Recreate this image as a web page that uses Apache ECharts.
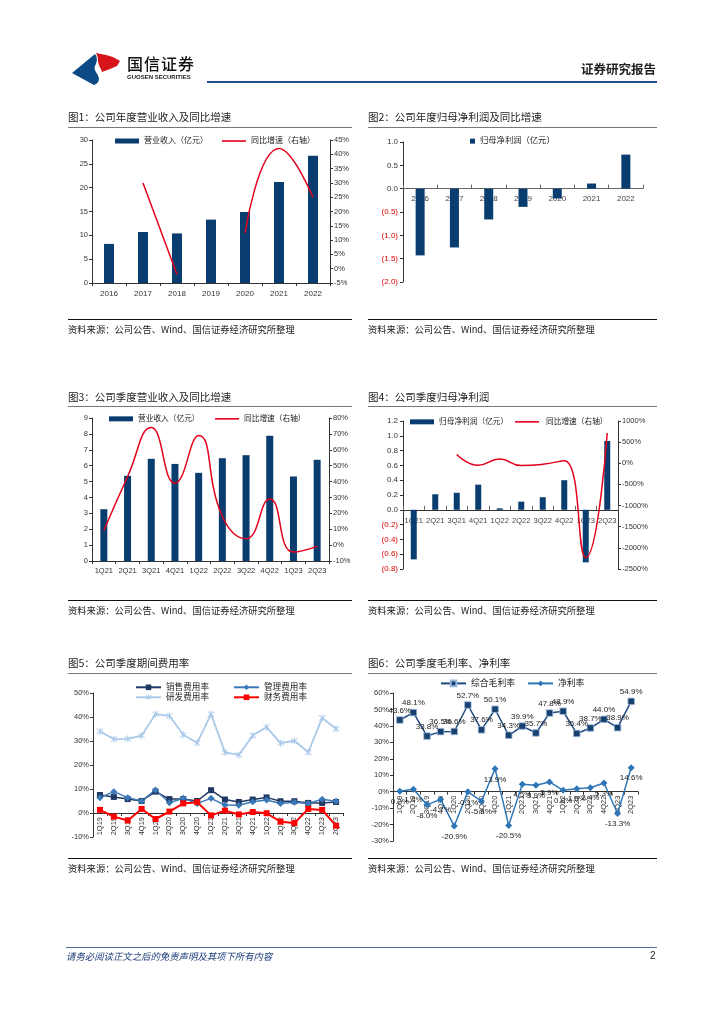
<!DOCTYPE html>
<html><head><meta charset="utf-8">
<script src="https://cdn.jsdelivr.net/npm/echarts/dist/echarts.min.js"></script>
<style>
html,body{margin:0;padding:0;background:#fff;}
#page{position:relative;width:724px;height:1024px;overflow:hidden;background:#fff;font-family:"Noto Sans CJK SC","Liberation Sans",sans-serif;}
#chart{position:absolute;left:0;top:0;width:724px;height:1024px;}
.t{position:absolute;white-space:nowrap;color:#222;}
.ln{position:absolute;}
</style>
</head><body>
<div id="page">
<div id="chart"></div>
<svg class="ln" style="left:0;top:0" width="724" height="100">
<path d="M72,73 L95,54 C98,58 97,62 95,66 C93,71 99,74 99,79 C99,82 97,84 94,85 Z" fill="#0c4a85"/>
<path d="M96,53 L106,55 L113,57 L120,61 L117,66 L110,69 L102,72 C101,68 98,65 98,60 C98,57 97,55 96,53 Z" fill="#d7141a"/>
</svg>
<div class="t" style="left:127px;top:55px;font-size:16px;line-height:16px;letter-spacing:1px;font-weight:500;color:#111;">国信证券</div>
<div class="t" style="left:127px;top:74px;font-size:6px;line-height:6px;font-weight:bold;font-family:'Liberation Sans';color:#222;">GUOSEN SECURITIES</div>
<div class="t" style="left:581px;top:62px;font-size:12.5px;line-height:13px;font-weight:bold;color:#222;">证券研究报告</div>
<div class="ln" style="left:207px;top:81px;width:450px;height:2px;background:#1f4e8c;"></div>

<div class="t" style="left:68px;top:111px;font-size:10.5px;line-height:12px;">图1：公司年度营业收入及同比增速</div>
<div class="t" style="left:368px;top:111px;font-size:10.5px;line-height:12px;">图2：公司年度归母净利润及同比增速</div>
<div class="ln" style="left:68px;top:127px;width:284px;height:1px;background:#777;"></div>
<div class="ln" style="left:368px;top:127px;width:289px;height:1px;background:#777;"></div>
<div class="ln" style="left:68px;top:319px;width:284px;height:1px;background:#111;"></div>
<div class="ln" style="left:368px;top:319px;width:289px;height:1px;background:#111;"></div>
<div class="t" style="left:68px;top:324px;font-size:9.3px;line-height:10px;">资料来源：公司公告、Wind、国信证券经济研究所整理</div>
<div class="t" style="left:368px;top:324px;font-size:9.3px;line-height:10px;">资料来源：公司公告、Wind、国信证券经济研究所整理</div>

<div class="t" style="left:68px;top:391px;font-size:10.5px;line-height:12px;">图3：公司季度营业收入及同比增速</div>
<div class="t" style="left:368px;top:391px;font-size:10.5px;line-height:12px;">图4：公司季度归母净利润</div>
<div class="ln" style="left:68px;top:406px;width:284px;height:1px;background:#777;"></div>
<div class="ln" style="left:368px;top:406px;width:289px;height:1px;background:#777;"></div>
<div class="ln" style="left:68px;top:600px;width:284px;height:1px;background:#111;"></div>
<div class="ln" style="left:368px;top:600px;width:289px;height:1px;background:#111;"></div>
<div class="t" style="left:68px;top:605px;font-size:9.3px;line-height:10px;">资料来源：公司公告、Wind、国信证券经济研究所整理</div>
<div class="t" style="left:368px;top:605px;font-size:9.3px;line-height:10px;">资料来源：公司公告、Wind、国信证券经济研究所整理</div>

<div class="t" style="left:68px;top:657px;font-size:10.5px;line-height:12px;">图5：公司季度期间费用率</div>
<div class="t" style="left:368px;top:657px;font-size:10.5px;line-height:12px;">图6：公司季度毛利率、净利率</div>
<div class="ln" style="left:68px;top:673px;width:284px;height:1px;background:#777;"></div>
<div class="ln" style="left:368px;top:673px;width:289px;height:1px;background:#777;"></div>
<div class="ln" style="left:68px;top:858px;width:284px;height:1px;background:#111;"></div>
<div class="ln" style="left:368px;top:858px;width:289px;height:1px;background:#111;"></div>
<div class="t" style="left:68px;top:863px;font-size:9.3px;line-height:10px;">资料来源：公司公告、Wind、国信证券经济研究所整理</div>
<div class="t" style="left:368px;top:863px;font-size:9.3px;line-height:10px;">资料来源：公司公告、Wind、国信证券经济研究所整理</div>

<div class="ln" style="left:66px;top:947px;width:591px;height:1px;background:#4a6fa0;"></div>
<div class="t" style="left:66px;top:951px;font-size:9.4px;line-height:10px;font-style:italic;color:#1f3f7a;">请务必阅读正文之后的免责声明及其项下所有内容</div>
<div class="t" style="left:650px;top:951px;font-size:10px;line-height:10px;font-family:'Liberation Sans';color:#222;">2</div>
</div>
<script>
// ---------- DATA ----------
const years = ['2016','2017','2018','2019','2020','2021','2022'];
const annualRevenue = [8.2, 10.7, 10.4, 13.3, 14.9, 21.2, 26.7];
const annualRevenueGrowth = [null, 30, -2, null, 12.4, 42, 25];
const annualNetProfit = [-1.43, -1.26, -0.66, -0.39, -0.21, 0.11, 0.73];

const quarters21 = ['1Q21','2Q21','3Q21','4Q21','1Q22','2Q22','3Q22','4Q22','1Q23','2Q23'];
const quarterRevenue = [3.26, 5.36, 6.43, 6.11, 5.55, 6.47, 6.66, 7.88, 5.32, 6.37];
const quarterRevenueGrowth = [9.2, 43, 74, 39, 69, 18, 4, 29, -4.4, -0.8];
const quarterNetProfit = [-0.67, 0.21, 0.23, 0.34, 0.02, 0.11, 0.17, 0.40, -0.71, 0.93];
const quarterNetProfitGrowth = [null, null, 210, -46, 100, -54, -23, 62, -2230, 715];

const quarters19 = ['1Q19','2Q19','3Q19','4Q19','1Q20','2Q20','3Q20','4Q20','1Q21','2Q21','3Q21','4Q21','1Q22','2Q22','3Q22','4Q22','1Q23','2Q23'];
const sellingRate = [7.5, 6.7, 5.8, 5.0, 8.9, 5.8, 5.8, 5.0, 9.5, 5.6, 4.6, 5.6, 6.5, 4.9, 4.9, 4.2, 4.2, 4.6];
const adminRate = [6.4, 8.9, 6.4, 5.0, 9.6, 4.3, 6.1, 4.0, 6.1, 3.3, 3.2, 4.7, 5.4, 4.0, 4.5, 4.0, 5.7, 4.9];
const rdRate = [34.0, 30.8, 30.9, 32.2, 41.2, 40.5, 32.6, 29.2, 41.2, 25.3, 24.2, 32.3, 35.8, 29.1, 30.1, 25.3, 39.6, 35.1];
const financeRate = [1.3, -1.5, -3.1, 1.7, -2.5, 0.6, 4.0, 4.5, -1.0, 1.0, -0.6, 0.4, -0.1, -3.6, -4.2, 1.7, 1.3, -5.3];
const grossMargin = [43.6, 48.1, 33.8, 36.5, 36.6, 52.7, 37.6, 50.1, 34.3, 39.9, 35.7, 47.8, 48.9, 35.4, 38.7, 44.0, 38.9, 54.9];
const netMargin = [0.2, 1.4, -8.0, -4.7, -20.9, -0.1, -5.8, 13.9, -20.5, 4.5, 3.9, 5.9, 0.8, 1.8, 2.4, 5.3, -13.3, 14.6];

// ---------- STYLE ----------
const FONT = "'Liberation Sans','Noto Sans CJK SC',sans-serif";
const NAVY = '#0a3d6f';
const RED = '#e3001b';
const AX = '#333';
const ASTER = 'path://M4.4,0L5.6,0L5.6,10L4.4,10Z M0.9,1.7L1.7,0.9L9.1,8.3L8.3,9.1Z M0.9,8.3L8.3,0.9L9.1,1.7L1.7,9.1Z';

const GRIDS = [
  {left:92, top:140, width:238, height:143},
  {left:403, top:142, width:240, height:140},
  {left:92, top:418, width:237, height:143},
  {left:403, top:421, width:215, height:148},
  {left:93, top:693, width:250, height:144},
  {left:393, top:693, width:245, height:148}
];
// offset that places a bottom category axis on the value axis' zero line
const zeroOffset = (g, min, max) => -GRIDS[g].height * (0 - min) / (max - min);

function catAxis(grid, data, extra) {
  const a = {
    type:'category', gridIndex:grid, data:data,
    axisLine:{show:true, onZero:false, lineStyle:{color:AX, width:1}},
    axisTick:{show:true, length:3, lineStyle:{color:AX}},
    axisLabel:{fontSize:8, color:AX, margin:6, interval:0, fontFamily:FONT},
    splitLine:{show:false}
  };
  return Object.assign(a, extra || {});
}
function valAxis(grid, min, max, interval, fmt, extra) {
  const a = {
    type:'value', gridIndex:grid, min:min, max:max, interval:interval,
    axisLine:{show:true, lineStyle:{color:AX, width:1}},
    axisTick:{show:true, length:3, lineStyle:{color:AX}},
    axisLabel:{fontSize:7.5, color:AX, margin:4, formatter:fmt, fontFamily:FONT},
    splitLine:{show:false}
  };
  return Object.assign(a, extra || {});
}
const parenFmt = v => v < 0 ? '(' + Math.abs(v).toFixed(1) + ')' : v.toFixed(1);
const parenColor = v => (Number(v) < 0 ? '#e00000' : AX);
const pct = v => v + '%';
const legendText = {fontSize:8, color:'#222', fontFamily:FONT};

function leg(name, left, cy, w, h, icon, fs) {
  const l = {data:[name], left:left, top:cy - 5, itemWidth:w, itemHeight:h, padding:0,
    textStyle:Object.assign({}, legendText, fs ? {fontSize:fs} : {}), selectedMode:false};
  if (icon) l.icon = icon;
  return l;
}
const LINE_ICON = 'path://M0,0L30,0L30,2L0,2Z';

const chart = echarts.init(document.getElementById('chart'), null, {renderer:'canvas'});
const option = {
  animation:false,
  textStyle:{fontFamily:FONT},
  grid:GRIDS,
  legend:[
    leg('营业收入（亿元）', 115, 142, 24, 5, 'rect'),
    leg('同比增速（右轴）', 222, 142, 24, 1.6, LINE_ICON),
    leg('归母净利润（亿元）', 470, 142, 5, 5, 'rect', 8.3),
    leg('营业收入（亿元）', 109, 420, 24, 5, 'rect', 7.7),
    leg('同比增速（右轴）', 215, 420, 24, 1.6, LINE_ICON, 7.7),
    leg('归母净利润（亿元）', 410, 423, 24, 5, 'rect', 7.7),
    leg('同比增速（右轴）', 515, 423, 28, 1.6, LINE_ICON, 7.7),
    leg('销售费用率', 135, 688, 25, 7, null, 8.6),
    leg('管理费用率', 233, 688, 25, 7, null, 8.6),
    leg('研发费用率', 135, 698, 25, 7, null, 8.6),
    leg('财务费用率', 233, 698, 25, 7, null, 8.6),
    leg('综合毛利率', 440, 684, 25, 7, null, 8.8),
    leg('净利率', 527, 684, 25, 7, null, 8.8)
  ],
  xAxis:[
    catAxis(0, years, {axisLabel:{fontSize:8, color:AX, margin:7, interval:0}}),
    catAxis(1, years, {offset:zeroOffset(1, -2, 1), axisTick:{show:true, inside:true, length:4, lineStyle:{color:'#666'}}, axisLine:{show:true, onZero:false, lineStyle:{color:'#666'}}, axisLabel:{fontSize:8, color:'#444', margin:6, interval:0}}),
    catAxis(2, quarters21, {axisLabel:{fontSize:7.5, color:AX, margin:6, interval:0}}),
    catAxis(3, quarters21, {offset:zeroOffset(3, -0.8, 1.2), axisTick:{show:true, inside:true, length:4, lineStyle:{color:'#666'}}, axisLine:{show:true, onZero:false, lineStyle:{color:'#333'}}, axisLabel:{fontSize:7.5, color:'#444', margin:7, interval:0}}),
    catAxis(4, quarters19, {offset:zeroOffset(4, -10, 50), axisLabel:{fontSize:7.5, color:AX, margin:4, interval:0, rotate:90}}),
    catAxis(5, quarters19, {offset:zeroOffset(5, -30, 60), axisLabel:{fontSize:7.5, color:AX, margin:4, interval:0, rotate:90}})
  ],
  yAxis:[
    valAxis(0, 0, 30, 5, null),
    valAxis(0, -5, 45, 5, pct, {position:'right'}),
    valAxis(1, -2, 1, 0.5, parenFmt, {axisLabel:{fontSize:8, margin:5, formatter:parenFmt, color:parenColor}}),
    valAxis(2, 0, 9, 1, null),
    valAxis(2, -10, 80, 10, pct, {position:'right'}),
    valAxis(3, -0.8, 1.2, 0.2, parenFmt, {axisLabel:{fontSize:8, margin:5, formatter:parenFmt, color:parenColor}}),
    valAxis(3, -2500, 1000, 500, pct, {position:'right'}),
    valAxis(4, -10, 50, 10, pct),
    valAxis(5, -30, 60, 10, pct)
  ],
  series:[
    {name:'营业收入（亿元）', type:'bar', xAxisIndex:0, yAxisIndex:0, data:annualRevenue, barWidth:10, itemStyle:{color:NAVY}},
    {name:'同比增速（右轴）', type:'line', xAxisIndex:0, yAxisIndex:1, data:annualRevenueGrowth, smooth:true, symbol:'none', connectNulls:false, lineStyle:{color:RED, width:1.5}, itemStyle:{color:RED}},
    {name:'归母净利润（亿元）', type:'bar', xAxisIndex:1, yAxisIndex:2, data:annualNetProfit, barWidth:9, itemStyle:{color:NAVY}},
    {name:'营业收入（亿元）', type:'bar', xAxisIndex:2, yAxisIndex:3, data:quarterRevenue, barWidth:7, itemStyle:{color:NAVY}},
    {name:'同比增速（右轴）', type:'line', xAxisIndex:2, yAxisIndex:4, data:quarterRevenueGrowth, smooth:true, symbol:'none', lineStyle:{color:RED, width:1.5}, itemStyle:{color:RED}},
    {name:'归母净利润（亿元）', type:'bar', xAxisIndex:3, yAxisIndex:5, data:quarterNetProfit, barWidth:6, itemStyle:{color:NAVY}},
    {name:'同比增速（右轴）', type:'line', xAxisIndex:3, yAxisIndex:6, data:quarterNetProfitGrowth, smooth:true, symbol:'none', lineStyle:{color:RED, width:1.5}, itemStyle:{color:RED}},
    {name:'销售费用率', type:'line', xAxisIndex:4, yAxisIndex:7, data:sellingRate, symbol:'rect', symbolSize:6, lineStyle:{color:'#1f3864', width:1.5}, itemStyle:{color:'#1f3864'}},
    {name:'管理费用率', type:'line', xAxisIndex:4, yAxisIndex:7, data:adminRate, symbol:'diamond', symbolSize:7, lineStyle:{color:'#3a78b8', width:1.5}, itemStyle:{color:'#3a78b8'}},
    {name:'研发费用率', type:'line', xAxisIndex:4, yAxisIndex:7, data:rdRate, symbol:ASTER, symbolSize:7, lineStyle:{color:'#a9c9ea', width:1.8}, itemStyle:{color:'#a9c9ea'}},
    {name:'财务费用率', type:'line', xAxisIndex:4, yAxisIndex:7, data:financeRate, symbol:'rect', symbolSize:6, lineStyle:{color:'#ff0000', width:2}, itemStyle:{color:'#ff0000'}},
    {name:'综合毛利率', type:'line', xAxisIndex:5, yAxisIndex:8, data:grossMargin, symbol:'rect', symbolSize:6.5,
      lineStyle:{color:'#1f4a7d', width:1.5}, itemStyle:{color:'#17406e', borderColor:'#9ab8dc', borderWidth:0.8},
      label:{show:true, position:'top', distance:2, fontSize:8, color:'#222', formatter:p => p.value.toFixed(1) + '%'}},
    {name:'净利率', type:'line', xAxisIndex:5, yAxisIndex:8, data:netMargin, symbol:'diamond', symbolSize:7,
      lineStyle:{color:'#2e75b6', width:1.5}, itemStyle:{color:'#2e75b6'},
      label:{show:true, position:'bottom', distance:3, fontSize:8, color:'#222', formatter:p => p.value.toFixed(1) + '%'}}
  ]
};
chart.setOption(option);
</script>
</body></html>
